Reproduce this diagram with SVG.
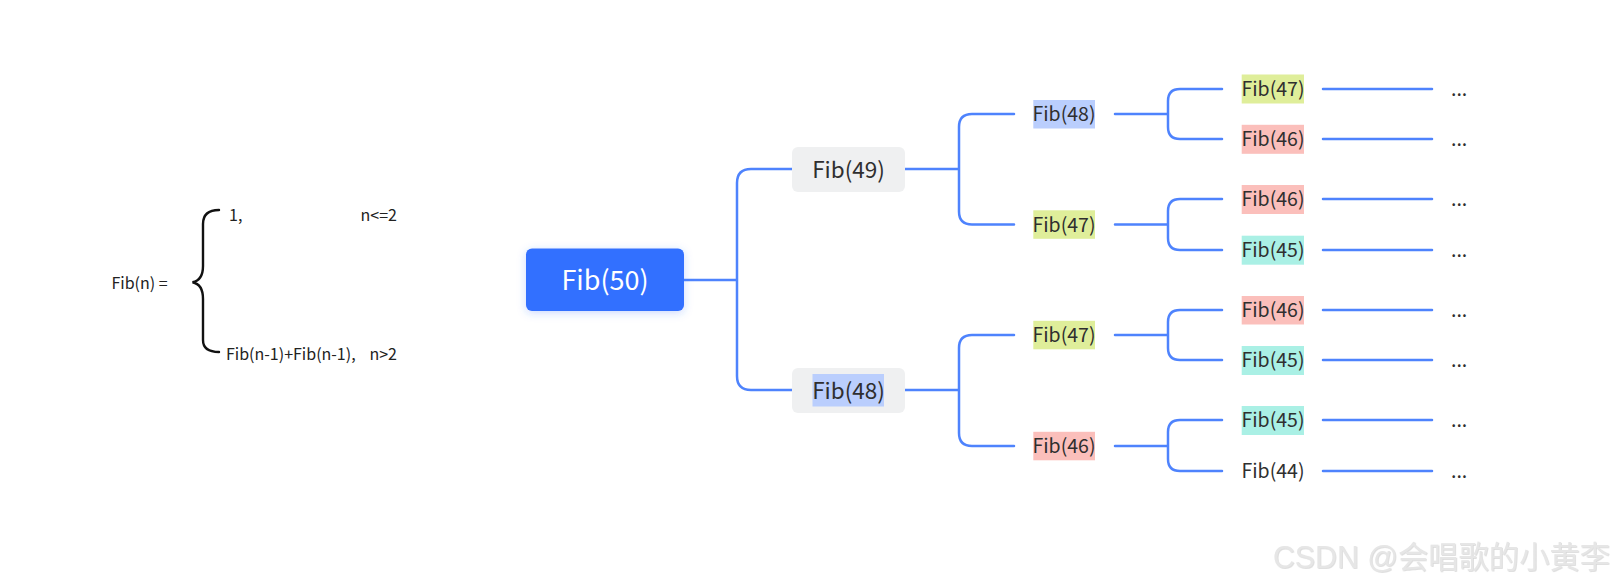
<svg xmlns="http://www.w3.org/2000/svg" width="1615" height="587" viewBox="0 0 1615 587">
<style>
text{font-family:"Noto Sans CJK SC","Noto Sans",sans-serif;fill:#2f2f2f;}
.f{font-size:16px;fill:#222;}
.t1{font-size:22.5px;text-anchor:middle;dominant-baseline:central;}
.t2{font-size:19.5px;text-anchor:middle;dominant-baseline:central;}
.dots{font-size:19.5px;dominant-baseline:central;}
.root{font-size:27px;text-anchor:middle;dominant-baseline:central;fill:#fff;}
.conn{fill:none;stroke:#4e83fd;stroke-width:2.5;stroke-linecap:round;}
.box{fill:#eff0f1;}
.hb{fill:#bacefd;}
.hg{fill:#dfee9a;}
.hp{fill:#fbbfbb;}
.hc{fill:#aaf0e5;}
.wm{font-family:"Liberation Sans","Noto Sans CJK SC",sans-serif;font-size:31px;fill:#e6e6e6;}
</style>
<defs>
<filter id="sh" x="-20%" y="-30%" width="140%" height="160%">
<feDropShadow dx="0" dy="2" stdDeviation="4" flood-color="#3370ff" flood-opacity="0.25"/>
</filter>
<filter id="wsh" x="-5%" y="-20%" width="110%" height="140%">
<feDropShadow dx="0.8" dy="0.8" stdDeviation="0.5" flood-color="#b0b0b0" flood-opacity="0.5"/>
</filter>
</defs>

<g id="formula">
<path d="M219,210 C209,210 203,214 203,224 V266 C203,276 199,281 192.5,282.3 C199,283.5 203,289 203,299 V340 C203,348 209,352 219,352" fill="none" stroke="#111" stroke-width="2.4" stroke-linecap="round"/>
<text class="f" x="111.5" y="289">Fib(n) =</text>
<text class="f" x="229" y="220.5">1,</text>
<text class="f" x="397" y="220.5" text-anchor="end">n&lt;=2</text>
<text class="f" x="226" y="360">Fib(n-1)+Fib(n-1),</text>
<text class="f" x="397" y="360" text-anchor="end">n&gt;2</text>
</g>

<g id="connectors">
<path class="conn" d="M684,280 H737 M792,169 H751 Q737,169 737,183 V376 Q737,390 751,390 H792"/>
<path class="conn" d="M905,169 H959 M1014,114 H972 Q959,114 959,127 V211.5 Q959,224.5 972,224.5 H1014"/>
<path class="conn" d="M905,390 H959 M1014,335 H972 Q959,335 959,348 V433 Q959,446 972,446 H1014"/>
<path class="conn" d="M1115,114 H1168 M1222,89 H1180 Q1168,89 1168,101 V127 Q1168,139 1180,139 H1222"/>
<path class="conn" d="M1115,224.5 H1168 M1222,199 H1180 Q1168,199 1168,211 V238 Q1168,250 1180,250 H1222"/>
<path class="conn" d="M1115,335 H1168 M1222,310 H1180 Q1168,310 1168,322 V348 Q1168,360 1180,360 H1222"/>
<path class="conn" d="M1115,446 H1168 M1222,420 H1180 Q1168,420 1168,432 V459 Q1168,471 1180,471 H1222"/>
<path class="conn" d="M1323,89 H1432 M1323,139 H1432 M1323,199 H1432 M1323,250 H1432 M1323,310 H1432 M1323,360 H1432 M1323,420 H1432 M1323,471 H1432"/>
</g>

<g id="n-fib50">
<rect x="526" y="248.5" width="158" height="62.5" rx="6" fill="#3370ff" filter="url(#sh)"/>
<text class="root" x="605" y="278.5">Fib(50)</text>
</g>

<g id="n-fib49">
<rect class="box" x="792" y="147" width="113" height="45" rx="6"/>
<text class="t1" x="848.5" y="167.8">Fib(49)</text>
</g>
<g id="n-fib48-1">
<rect class="box" x="792" y="368" width="113" height="45" rx="6"/>
<rect class="hb" x="812.5" y="374" width="71.5" height="32.5"/>
<text class="t1" x="848.5" y="388.8">Fib(48)</text>
</g>

<g id="n-l2-a">
<rect class="hb" x="1033.3" y="100" width="61.7" height="28.5"/>
<text class="t2" x="1064" y="112.8">Fib(48)</text>
</g>
<g id="n-l2-b">
<rect class="hg" x="1033.3" y="210.3" width="61.7" height="28.5"/>
<text class="t2" x="1064" y="223.3">Fib(47)</text>
</g>
<g id="n-l2-c">
<rect class="hg" x="1033.3" y="320.8" width="61.7" height="28.5"/>
<text class="t2" x="1064" y="333.8">Fib(47)</text>
</g>
<g id="n-l2-d">
<rect class="hp" x="1033.3" y="431.8" width="61.7" height="28.5"/>
<text class="t2" x="1064" y="444.8">Fib(46)</text>
</g>

<g id="n-l3-1">
<rect class="hg" x="1241.7" y="74.5" width="62.3" height="29"/>
<text class="t2" x="1273" y="87.8">Fib(47)</text>
</g>
<g id="n-l3-2">
<rect class="hp" x="1241.7" y="124.8" width="62.3" height="29"/>
<text class="t2" x="1273" y="137.8">Fib(46)</text>
</g>
<g id="n-l3-3">
<rect class="hp" x="1241.7" y="185" width="62.3" height="29"/>
<text class="t2" x="1273" y="197.8">Fib(46)</text>
</g>
<g id="n-l3-4">
<rect class="hc" x="1241.7" y="235.7" width="62.3" height="29"/>
<text class="t2" x="1273" y="248.8">Fib(45)</text>
</g>
<g id="n-l3-5">
<rect class="hp" x="1241.7" y="296" width="62.3" height="28.5"/>
<text class="t2" x="1273" y="308.8">Fib(46)</text>
</g>
<g id="n-l3-6">
<rect class="hc" x="1241.7" y="346" width="62.3" height="29"/>
<text class="t2" x="1273" y="358.8">Fib(45)</text>
</g>
<g id="n-l3-7">
<rect class="hc" x="1241.7" y="406" width="62.3" height="29"/>
<text class="t2" x="1273" y="418.8">Fib(45)</text>
</g>
<g id="n-l3-8">
<text class="t2" x="1273" y="469.8">Fib(44)</text>
</g>

<g id="n-dots">
<text class="dots" x="1451" y="87.5">...</text>
<text class="dots" x="1451" y="137.5">...</text>
<text class="dots" x="1451" y="197.5">...</text>
<text class="dots" x="1451" y="248.5">...</text>
<text class="dots" x="1451" y="308.5">...</text>
<text class="dots" x="1451" y="358.5">...</text>
<text class="dots" x="1451" y="418.5">...</text>
<text class="dots" x="1451" y="469.5">...</text>
</g>

<g id="watermark">
<text class="wm" x="1273" y="568" textLength="337" lengthAdjust="spacingAndGlyphs" filter="url(#wsh)">CSDN @会唱歌的小黄李</text>
</g>
</svg>
